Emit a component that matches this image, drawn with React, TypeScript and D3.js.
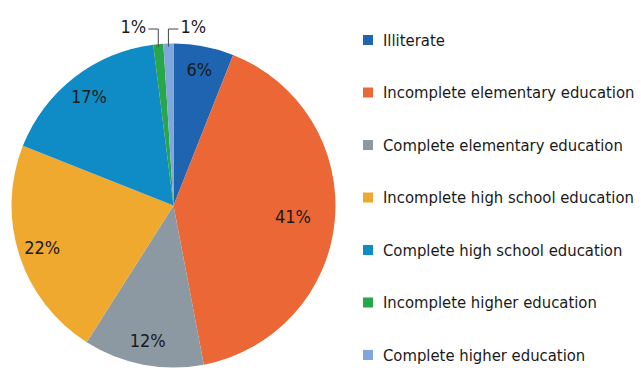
import React from "react";
import * as d3 from "d3";

const categories = [
  "Illiterate",
  "Incomplete elementary education",
  "Complete elementary education",
  "Incomplete high school education",
  "Complete high school education",
  "Incomplete higher education",
  "Complete higher education",
];
const values = [6, 41, 12, 22, 17, 1, 1];
const colors = ["#1f64b1", "#eb6735", "#8d99a2", "#eea92e", "#0f8bc6", "#28a64a", "#80a7dc"];

const W = 641;
const H = 376;
const cx = 173.5;
const cy = 205.5;
const R = 162;
const FONT = "'DejaVu Sans Condensed', 'Roboto Condensed', 'Liberation Sans Narrow', Roboto, sans-serif";

export default function App() {
  const pie = d3.pie<number>().sort(null).value((d) => d)(values);
  const arc = d3.arc<d3.PieArcDatum<number>>().innerRadius(0).outerRadius(R);
  const legendY = d3.scalePoint<string>().domain(categories).range([40, 355]);

  return (
    <svg width={W} height={H} style={{ position: "absolute", left: 0, top: 0, background: "#fff" }}>
      <g transform={`translate(${cx},${cy})`}>
        {pie.map((p, i) => (
          <path key={i} d={arc(p) || ""} fill={colors[i]} />
        ))}
        {pie.map((p, i) => {
          const mid = (p.startAngle + p.endAngle) / 2;
          const label = `${values[i]}%`;
          if (values[i] < 3) {
            const x0 = R * Math.sin(mid);
            const y0 = -R * Math.cos(mid) + 3;
            const yTop = 29 - cy;
            const dir = i === values.length - 1 ? 1 : -1;
            const x1 = x0 + dir * 10;
            return (
              <g key={"l" + i}>
                <polyline
                  points={`${x0},${y0} ${x0},${yTop} ${x1},${yTop}`}
                  fill="none"
                  stroke="#444"
                  strokeWidth={1}
                />
                <text
                  x={x1 + dir * 2}
                  y={yTop}
                  dy="0.2em"
                  textAnchor={dir < 0 ? "end" : "start"}
                  fontFamily={FONT}
                  fontSize={18}
                  fill="#1a1a1a"
                >
                  {label}
                </text>
              </g>
            );
          }
          const lr = values[i] > 30 ? 120 : 138;
          return (
            <text
              key={"l" + i}
              x={lr * Math.sin(mid)}
              y={-lr * Math.cos(mid)}
              dy="0.35em"
              textAnchor="middle"
              fontFamily={FONT}
              fontSize={18}
              fill="#1a1a1a"
            >
              {label}
            </text>
          );
        })}
      </g>
      <g>
        {categories.map((c, i) => (
          <g key={c} transform={`translate(363,${legendY(c)})`}>
            <rect x={0} y={-5} width={10} height={10} fill={colors[i]} />
            <text x={20} y={0} dy="0.35em" fontFamily={FONT} fontSize={16.5} fill="#1a1a1a">
              {c}
            </text>
          </g>
        ))}
      </g>
    </svg>
  );
}
